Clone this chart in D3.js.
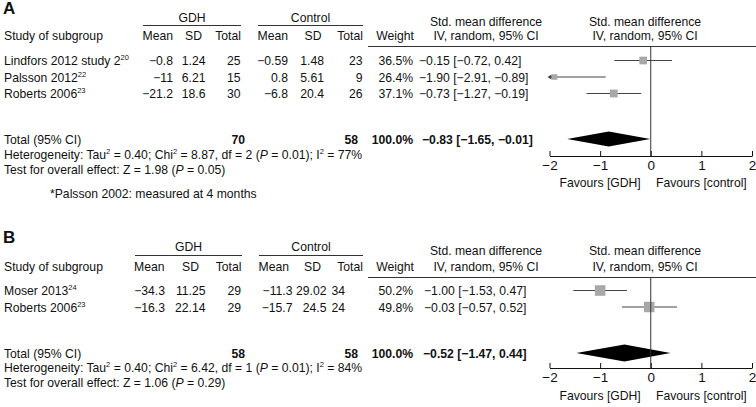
<!DOCTYPE html>
<html>
<head>
<meta charset="utf-8">
<script src="https://cdn.jsdelivr.net/npm/d3@7"></script>
<style>
  body { margin: 0; background: #fff; }
  svg { display: block; font-family: "Liberation Sans", Arial, sans-serif; }
</style>
</head>
<body>
<div id="chart"></div>
<script>
// ---- data, panel A ----
const studiesA = ['Lindfors 2012 study 2', 'Palsson 2012', 'Roberts 2006'];
const refsA = ['20', '22', '23'];
const gdhMeanA = [-0.8, -11, -21.2];
const gdhSdA = [1.24, 6.21, 18.6];
const gdhTotalA = [25, 15, 30];
const ctlMeanA = [-0.59, 0.8, -6.8];
const ctlSdA = [1.48, 5.61, 20.4];
const ctlTotalA = [23, 9, 26];
const weightA = [36.5, 26.4, 37.1];
const smdA = [-0.15, -1.90, -0.73];
const loA = [-0.72, -2.91, -1.27];
const hiA = [0.42, -0.89, -0.19];
const ciTextA = ['−0.15 [−0.72, 0.42]', '−1.90 [−2.91, −0.89]', '−0.73 [−1.27, −0.19]'];
const totalA = { gdh: 70, ctl: 58, est: -0.83, lo: -1.65, hi: -0.01, text: '−0.83 [−1.65, −0.01]' };
const hetA = ['0.40', '8.87', '2', '0.01', '77%'];
const testA = ['1.98', '0.05'];

// ---- data, panel B ----
const studiesB = ['Moser 2013', 'Roberts 2006'];
const refsB = ['24', '23'];
const gdhMeanB = [-34.3, -16.3];
const gdhSdB = [11.25, 22.14];
const gdhTotalB = [29, 29];
const ctlMeanB = [-11.3, -15.7];
const ctlSdB = [29.02, 24.5];
const ctlTotalB = [34, 24];
const weightB = [50.2, 49.8];
const smdB = [-1.00, -0.03];
const loB = [-1.53, -0.57];
const hiB = [-0.47, 0.52];
const ciTextB = ['−1.00 [−1.53, 0.47]', '−0.03 [−0.57, 0.52]'];
const totalB = { gdh: 58, ctl: 58, est: -0.52, lo: -1.47, hi: 0.39, text: '−0.52 [−1.47, 0.44]' };
const hetB = ['0.40', '6.42', '1', '0.01', '84%'];
const testB = ['1.06', '0.29'];

const tickValues = [-2, -1, 0, 1, 2];

const W = 756, H = 407;
const svg = d3.select('#chart').append('svg').attr('width', W).attr('height', H);

const minus = (v) => String(v).replace('-', '−');
const x = d3.scaleLinear().domain([-2, 2]).range([549.5, 752]);
const boxSize = d3.scaleLinear().domain([0, 50]).range([0, 10.5]);

// text with optional superscript / italic segments
function txt(g, xx, yy, parts, anchor, opts = {}) {
  const t = g.append('text')
    .attr('x', xx).attr('y', yy)
    .attr('text-anchor', anchor || 'start')
    .attr('font-size', opts.size || 12.2)
    .attr('font-weight', opts.bold ? 'bold' : null)
    .attr('fill', '#111');
  if (typeof parts === 'string') parts = [parts];
  let raised = false;
  parts.forEach((p) => {
    if (typeof p === 'string') p = { t: p };
    const s = t.append('tspan').text(p.t);
    if (p.sup) {
      s.attr('font-size', 7.5).attr('dy', -5);
      raised = true;
    } else if (raised) {
      s.attr('dy', 5);
      raised = false;
    }
    if (p.it) s.attr('font-style', 'italic');
  });
  return t;
}

function drawPanel(p) {
  const g = svg.append('g');

  txt(g, 3, p.labelY, p.label, 'start', { size: 17, bold: true });

  // group headers
  txt(g, (p.gdhLine[0] + p.gdhLine[1]) / 2, p.groupY, 'GDH', 'middle');
  txt(g, (p.ctlLine[0] + p.ctlLine[1]) / 2, p.groupY, 'Control', 'middle');
  g.append('line').attr('x1', p.gdhLine[0]).attr('x2', p.gdhLine[1])
    .attr('y1', p.underY).attr('y2', p.underY).attr('stroke', '#333');
  g.append('line').attr('x1', p.ctlLine[0]).attr('x2', p.ctlLine[1])
    .attr('y1', p.underY).attr('y2', p.underY).attr('stroke', '#333');

  txt(g, 486, p.groupY + 4, 'Std. mean difference', 'middle');
  txt(g, 645, p.groupY + 4, 'Std. mean difference', 'middle');

  const hy = p.headY;
  txt(g, 4, hy, 'Study of subgroup');
  txt(g, p.hcol[0], hy, 'Mean', 'end');
  txt(g, p.hcol[1], hy, 'SD', 'end');
  txt(g, p.hcol[2], hy, 'Total', 'end');
  txt(g, p.hcol[3], hy, 'Mean', 'end');
  txt(g, p.hcol[4], hy, 'SD', 'end');
  txt(g, p.hcol[5], hy, 'Total', 'end');
  txt(g, 414, hy, 'Weight', 'end');
  txt(g, 486, hy, 'IV, random, 95% CI', 'middle');
  txt(g, 645, hy, 'IV, random, 95% CI', 'middle');

  g.append('line').attr('x1', 368).attr('x2', W)
    .attr('y1', p.ruleY).attr('y2', p.ruleY).attr('stroke', '#333');

  // study rows
  p.studies.forEach((s, i) => {
    const cy = p.rowY[i];
    const by = cy + 4.5;
    txt(g, 4, by, [s, { t: p.refs[i], sup: true }]);
    txt(g, p.col[0], by, minus(p.gdhMean[i]), 'end');
    txt(g, p.col[1], by, String(p.gdhSd[i]), 'end');
    txt(g, p.col[2], by, String(p.gdhTotal[i]), 'end');
    txt(g, p.col[3], by, minus(p.ctlMean[i]), 'end');
    txt(g, p.col[4], by, String(p.ctlSd[i]), 'end');
    txt(g, p.col[5], by, String(p.ctlTotal[i]), 'end');
    txt(g, 413, by, p.weight[i].toFixed(1) + '%', 'end');
    txt(g, p.ciX, by, p.ciText[i]);

    const lo = Math.max(p.lo[i], -2);
    const hi = Math.min(p.hi[i], 2);
    g.append('line').attr('x1', x(lo)).attr('x2', x(hi))
      .attr('y1', cy).attr('y2', cy).attr('stroke', '#444').attr('stroke-width', 1);
    if (p.lo[i] < -2) {
      g.append('path')
        .attr('d', `M${x(-2) - 2},${cy} l4,-2.5 l0,5 z`)
        .attr('fill', '#444');
    }
    const b = boxSize(p.weight[i]);
    g.append('rect').attr('x', x(p.smd[i]) - b / 2).attr('y', cy - b / 2)
      .attr('width', b).attr('height', b).attr('fill', '#a8a8a8');
  });

  // total row
  const tb = p.totalY + 4.5;
  txt(g, 4, tb, 'Total (95% CI)');
  txt(g, 245, tb, String(p.total.gdh), 'end', { bold: true });
  txt(g, 358, tb, String(p.total.ctl), 'end', { bold: true });
  txt(g, 413, tb, '100.0%', 'end', { bold: true });
  txt(g, p.totCiX, tb, p.total.text, 'start', { bold: true });

  const h = p.diamondH;
  g.append('path')
    .attr('d', `M${x(p.total.lo)},${p.totalY} L${x(p.total.est)},${p.totalY - h} ` +
      `L${x(p.total.hi)},${p.totalY} L${x(p.total.est)},${p.totalY + h} Z`)
    .attr('fill', '#000');

  const het = p.het;
  txt(g, 4, p.hetY, ['Heterogeneity: Tau', { t: '2', sup: true }, ' = ' + het[0] + '; Chi',
    { t: '2', sup: true }, ' = ' + het[1] + ', df = ' + het[2] + ' (', { t: 'P', it: true },
    ' = ' + het[3] + '); I', { t: '2', sup: true }, ' = ' + het[4]]);
  txt(g, 4, p.testY, ['Test for overall effect: Z = ' + p.test[0] + ' (', { t: 'P', it: true },
    ' = ' + p.test[1] + ')']);

  // zero line
  g.append('line').attr('x1', x(0)).attr('x2', x(0))
    .attr('y1', p.ruleY).attr('y2', p.axisY).attr('stroke', '#333');

  // axis
  const axis = g.append('g')
    .attr('transform', `translate(0,${p.axisY})`)
    .call(d3.axisBottom(x).tickValues(tickValues)
      .tickSizeInner(-5).tickSizeOuter(0).tickPadding(4)
      .tickFormat((d) => minus(d)));
  axis.select('.domain').attr('stroke', '#111');
  axis.selectAll('.tick line').attr('stroke', '#111');
  axis.selectAll('.tick text').attr('font-size', 13.5).attr('fill', '#111')
    .attr('font-family', '"Liberation Sans", Arial, sans-serif');

  txt(g, x(-1), p.favY, 'Favours [GDH]', 'middle');
  txt(g, x(1), p.favY, 'Favours [control]', 'middle');
}

drawPanel({
  label: 'A', labelY: 14, groupY: 22, underY: 25.5, headY: 40, ruleY: 46.5,
  gdhLine: [143, 241], ctlLine: [258, 363],
  hcol: [173, 202, 241, 288, 321.5, 363],
  col: [173, 205.5, 240.5, 288, 324, 362.5],
  ciX: 419, totCiX: 422,
  rowY: [60.5, 77, 93.5], totalY: 139, diamondH: 7.5,
  hetY: 159, testY: 174, axisY: 156, favY: 187,
  studies: studiesA, refs: refsA, gdhMean: gdhMeanA, gdhSd: gdhSdA, gdhTotal: gdhTotalA,
  ctlMean: ctlMeanA, ctlSd: ctlSdA, ctlTotal: ctlTotalA, weight: weightA,
  smd: smdA, lo: loA, hi: hiA, ciText: ciTextA, total: totalA, het: hetA, test: testA,
});

txt(svg, 50, 198, '*Palsson 2002: measured at 4 months');

drawPanel({
  label: 'B', labelY: 243, groupY: 251, underY: 255.5, headY: 271, ruleY: 277.5,
  gdhLine: [135, 242], ctlLine: [259, 363],
  hcol: [164.5, 199, 241.5, 289, 321, 363],
  col: [165, 205.5, 241, 292.5, 326.5, 345],
  ciX: 424, totCiX: 423,
  rowY: [290.5, 307], totalY: 353, diamondH: 8.5,
  hetY: 372, testY: 387, axisY: 368, favY: 400,
  studies: studiesB, refs: refsB, gdhMean: gdhMeanB, gdhSd: gdhSdB, gdhTotal: gdhTotalB,
  ctlMean: ctlMeanB, ctlSd: ctlSdB, ctlTotal: ctlTotalB, weight: weightB,
  smd: smdB, lo: loB, hi: hiB, ciText: ciTextB, total: totalB, het: hetB, test: testB,
});
</script>
</body>
</html>
